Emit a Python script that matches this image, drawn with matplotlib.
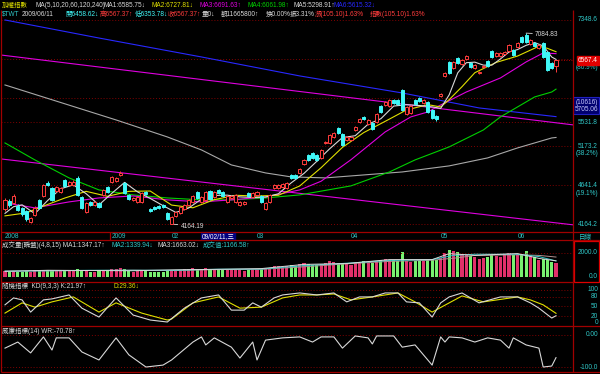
import matplotlib
matplotlib.use('Agg')
import matplotlib.pyplot as plt
from matplotlib.patches import Rectangle

plt.rcParams['font.family'] = ['Liberation Sans', 'Noto Sans CJK TC', 'DejaVu Sans']
plt.rcParams['font.size'] = 4.7

# ---- daily bars (TAIEX, late Nov 2008 .. 2009/06/11) ----
opens = [4344, 4441, 4417, 4380, 4356, 4319, 4190, 4272, 4454, 4503,
         4670, 4605, 4567, 4554, 4709, 4644, 4644, 4735, 4491, 4307,
         4429, 4392, 4417, 4516, 4618, 4683, 4696, 4775, 4670, 4516,
         4454, 4429, 4429, 4554, 4344, 4368, 4380, 4392, 4296, 4170,
         4260, 4296, 4344, 4392, 4429, 4554, 4429, 4454, 4567, 4491,
         4579, 4554, 4429, 4478, 4429, 4392, 4404, 4541, 4491, 4516,
         4503, 4344, 4429, 4605, 4605, 4618, 4605, 4775, 4775, 4801,
         4923, 5048, 5076, 5048, 5006, 5219, 5219, 5307, 5441, 5351,
         5263, 5263, 5411, 5533, 5611, 5503, 5518, 5533, 5785, 5801,
         5785, 5882, 5882, 6048, 5658, 5674, 5882, 5915, 5834, 5850,
         5721, 5627, 5948, 6289, 6539, 6430, 6612, 6502, 6593, 6520,
         6430, 6341, 6448, 6557, 6741, 6648, 6648, 6685, 6741, 6760,
         6817, 7009, 7048, 6874, 6893, 6798, 6893, 6723, 6520, 6458.62]
highs = [4478, 4466, 4529, 4404, 4368, 4331, 4248, 4380, 4466, 4657,
         4696, 4618, 4631, 4618, 4722, 4696, 4709, 4761, 4503, 4429,
         4441, 4441, 4429, 4592, 4631, 4761, 4748, 4828, 4683, 4529,
         4491, 4503, 4554, 4567, 4356, 4380, 4392, 4404, 4307, 4260,
         4319, 4380, 4404, 4466, 4516, 4567, 4503, 4567, 4579, 4567,
         4592, 4567, 4516, 4516, 4529, 4441, 4441, 4554, 4554, 4567,
         4516, 4429, 4529, 4657, 4657, 4670, 4683, 4788, 4788, 4868,
         4992, 5062, 5090, 5062, 5133, 5248, 5351, 5381, 5457, 5366,
         5322, 5322, 5472, 5595, 5627, 5580, 5533, 5674, 5801, 5866,
         5898, 5899, 5899, 6065, 5785, 5801, 5899, 5932, 5899, 5866,
         5737, 5642, 5998, 6359, 6557, 6557, 6630, 6593, 6667, 6539,
         6502, 6377, 6484, 6575, 6760, 6723, 6723, 6741, 6874, 6779,
         6912, 7028, 7084.83, 6970, 6912, 6874, 6912, 6741, 6539, 6567.37]
lows = [4319, 4368, 4404, 4319, 4260, 4201, 4180, 4260, 4344, 4491,
        4631, 4441, 4554, 4541, 4618, 4631, 4631, 4503, 4344, 4296,
        4380, 4380, 4356, 4503, 4541, 4670, 4683, 4761, 4529, 4454,
        4441, 4417, 4417, 4516, 4307, 4331, 4344, 4356, 4213, 4164.19,
        4248, 4284, 4331, 4380, 4417, 4466, 4417, 4441, 4454, 4478,
        4529, 4491, 4417, 4466, 4417, 4380, 4392, 4491, 4478, 4503,
        4417, 4331, 4417, 4592, 4592, 4605, 4592, 4722, 4722, 4788,
        4909, 4964, 4992, 4964, 4992, 5205, 5205, 5292, 5351, 5176,
        5248, 5248, 5396, 5518, 5564, 5487, 5411, 5518, 5674, 5785,
        5769, 5817, 5801, 5705, 5642, 5658, 5801, 5850, 5817, 5674,
        5580, 5549, 5932, 6270, 6324, 6412, 6502, 6484, 6575, 6430,
        6412, 6324, 6430, 6448, 6612, 6630, 6630, 6667, 6723, 6648,
        6798, 6893, 6893, 6855, 6817, 6779, 6612, 6377, 6412, 6353.78]
closes = [4454, 4392, 4503, 4331, 4284, 4225, 4236, 4356, 4356, 4644,
          4644, 4454, 4618, 4605, 4631, 4683, 4683, 4516, 4356, 4417,
          4392, 4429, 4368, 4579, 4554, 4748, 4735, 4801, 4541, 4466,
          4478, 4491, 4541, 4529, 4319, 4344, 4356, 4368, 4225, 4248,
          4307, 4368, 4392, 4454, 4503, 4478, 4491, 4554, 4466, 4554,
          4541, 4503, 4503, 4503, 4516, 4429, 4429, 4503, 4541, 4554,
          4429, 4417, 4516, 4644, 4644, 4657, 4670, 4735, 4735, 4855,
          4978, 4978, 5006, 4978, 5118, 5234, 5336, 5366, 5366, 5190,
          5307, 5307, 5457, 5580, 5580, 5564, 5426, 5658, 5689, 5850,
          5882, 5834, 5817, 5721, 5769, 5785, 5817, 5866, 5882, 5689,
          5595, 5580, 5981, 6341, 6341, 6539, 6520, 6575, 6648, 6448,
          6484, 6359, 6466, 6466, 6630, 6704, 6704, 6723, 6855, 6667,
          6893, 6912, 6912, 6951, 6836, 6855, 6630, 6394, 6430, 6567.37]
volumes = [480, 420, 520, 400, 450, 500, 430, 550, 480, 620,
           560, 600, 480, 500, 520, 470, 540, 650, 580, 520,
           450, 420, 480, 610, 560, 700, 640, 720, 680, 520,
           450, 480, 560, 520, 450, 420, 380, 400, 520, 600,
           580, 620, 650, 700, 760, 650, 620, 720, 680, 700,
           650, 620, 600, 580, 650, 560, 520, 600, 640, 700,
           680, 720, 760, 900, 880, 850, 920, 1000, 950, 1100,
           1160, 1050, 1000, 980, 1100, 1200, 1300, 1250, 1150, 1200,
           1050, 1000, 1150, 1250, 1300, 1200, 1150, 1350, 1400, 1500,
           1450, 1400, 1350, 2080, 1300, 1250, 1350, 1400, 1300, 1450,
           1500, 1400, 1600, 2000, 2250, 2200, 2100, 1900, 1800, 1750,
           1650, 1500, 1600, 1700, 1800, 1750, 1700, 1900, 2000, 1850,
           1900, 1950, 2170, 1800, 1700, 1400, 1500, 1450, 1270, 1166.58]

# ---- moving averages (bar index, value) ----
ma5_idx = [0, 2, 4, 7, 10, 13, 16, 19, 22, 25, 28, 31, 34, 37, 40, 43, 46, 49, 52, 55,
           58, 61, 64, 67, 70, 73, 76, 79, 82, 85, 88, 91, 94, 97, 100, 102, 104, 106,
           108, 110, 112, 114, 116, 118, 120, 122, 124, 126, 127, 128, 129]
ma5_val = [4290, 4370, 4393, 4286, 4447, 4593, 4644, 4531, 4392, 4536, 4676, 4555, 4472,
           4383, 4301, 4354, 4464, 4509, 4513, 4491, 4484, 4489, 4530, 4670, 4795, 4959,
           5134, 5298, 5325, 5498, 5583, 5783, 5805, 5792, 5770, 5745, 5968, 6344, 6525,
           6535, 6481, 6481, 6594, 6723, 6768, 6848, 6901, 6837, 6733, 6629, 6585.75]
ma10_idx = [0, 5, 9, 14, 19, 24, 29, 34, 39, 44, 49, 54, 59, 64, 69, 74, 79, 84, 89, 94,
            99, 102, 104, 107, 110, 115, 120, 125, 127, 129]
ma10_val = [4260, 4296, 4378, 4477, 4561, 4498, 4561, 4565, 4390, 4357, 4457, 4511, 4502,
            4511, 4630, 4871, 5155, 5372, 5542, 5721, 5806, 5769, 5888, 6104, 6346, 6530,
            6647, 6831, 6791, 6727.81]
ma20_idx = [0, 7, 15, 22, 30, 38, 46, 53, 61, 69, 74, 81, 89, 95, 99, 102, 108, 116, 122, 126, 129]
ma20_val = [4417, 4356, 4429, 4478, 4503, 4454, 4429, 4454, 4491, 4579, 4691, 4981, 5381,
            5611, 5689, 5801, 6014, 6254, 6539, 6704, 6691.63]
ma60_idx = [0, 7, 15, 22, 30, 38, 46, 53, 61, 69, 81, 90, 96, 104, 112, 116, 120, 124, 128, 129]
ma60_val = [5219, 4978, 4735, 4579, 4516, 4478, 4454, 4454, 4478, 4516, 4631, 4814, 4978,
            5162, 5411, 5611, 5769, 5932, 6014, 6061.98]
ma120_idx = [0, 26, 38, 46, 53, 61, 67, 75, 81, 93, 104, 113, 120, 128, 129]
ma120_val = [6133, 5564, 5307, 5118, 4909, 4801, 4748, 4735, 4761, 4814, 4896, 5006, 5147,
             5292, 5298.91]
ma240_idx = [0, 22, 46, 69, 93, 111, 129]
ma240_val = [7349, 6989, 6630, 6289, 5998, 5753, 5615.32]

# two hand-drawn trend lines (anchor bars, prices)
trend_a = [(0, 6657), (129, 5520)]
trend_b = [(0, 4985), (129, 4178)]
# fibonacci style levels of the price scale
levels = [7348.6, 6592, 5915, 5531.8, 5173.2, 4641.4, 4164.2]

# volume averages (4, 8, 15)
vma1_idx = [0, 10, 20, 30, 40, 50, 60, 70, 80, 90, 100, 104, 110, 120, 125, 129]
vma1_val = [470, 560, 540, 520, 600, 640, 700, 1050, 1120, 1450, 1450, 1950, 1800, 1950, 1550, 1347]
vma2_idx = [0, 10, 20, 30, 40, 50, 60, 70, 80, 90, 100, 105, 110, 120, 125, 129]
vma2_val = [480, 520, 560, 560, 560, 650, 660, 950, 1150, 1380, 1450, 1800, 1900, 1900, 1700, 1340]
vma3_idx = [0, 10, 20, 30, 40, 50, 60, 70, 80, 90, 100, 106, 110, 120, 125, 129]
vma3_val = [500, 510, 540, 570, 540, 620, 640, 850, 1100, 1300, 1400, 1600, 1800, 1850, 1800, 1663]

# KD(9,3,3)
k_idx = [0, 2, 4, 6, 9, 11, 15, 18, 22, 26, 30, 34, 38, 42, 46, 50, 53, 56, 58, 60, 63, 65,
         69, 73, 77, 80, 83, 86, 89, 92, 94, 97, 100, 102, 104, 107, 111, 116, 120, 123, 125,
         128, 129]
k_val = [55, 76, 70, 33, 70, 73, 85, 45, 18, 76, 24, 9, 3, 45, 76, 85, 39, 39, 61, 48, 76, 85,
         91, 85, 91, 64, 79, 79, 91, 91, 64, 61, 18, 61, 79, 91, 61, 79, 79, 61, 45, 15, 21.97]
d_idx = [0, 4, 7, 11, 16, 22, 26, 32, 38, 39, 44, 50, 55, 60, 65, 69, 73, 77, 81, 86, 92, 96,
         100, 104, 107, 112, 120, 123, 126, 129]
d_val = [30, 61, 48, 64, 79, 33, 61, 30, 9, 12, 61, 79, 45, 48, 76, 85, 85, 88, 70, 79, 91, 64,
         33, 61, 82, 64, 79, 70, 55, 29.36]
# Williams %R(14)
wr_idx = [0, 3, 6, 9, 11, 12, 15, 18, 22, 26, 29, 33, 37, 39, 44, 46, 47, 49, 53, 55, 58, 59,
          61, 65, 69, 72, 74, 77, 79, 82, 85, 86, 87, 91, 93, 96, 100, 102, 103, 104, 107, 110,
          113, 116, 118, 119, 122, 125, 126, 128, 129]
wr_val = [-41, -22, -56, -6, -47, -9, -9, -53, -78, -9, -62, -100, -94, -78, -22, -6, -31, -9,
          -38, -72, -22, -78, -16, -9, -6, -22, -6, -6, -41, -3, -9, -28, -3, -3, -38, -31, -94,
          -6, -22, -6, -9, -22, -9, -16, -41, -9, -31, -41, -100, -97, -70.78]

month_labels = ['2008', '2009', '02', '03', '04', '05', '06']
month_idx = [0, 25, 39, 59, 81, 102, 120]

# ---- colours ----
BG = 'black'
FRAME = '#a00000'
GRID = '#800000'
TEAL = '#30c8c8'
WHITE = '#d8d8d8'
YELLOW = '#e0e000'
MAG = '#e000e0'
GREEN = '#00d000'
GRAY = '#a8a8a8'
BLUE = '#2828ff'
UP = '#ff3c3c'
DOWN = '#40f8f8'
VUP = '#e0306a'
VDOWN = '#78f070'
DOT = (0, (1, 2))

W, H = 600, 374
X0, X1 = 1, 573
STEP = 551 / 129
XLIM = ((X0 - 5) / STEP, (X1 - 5) / STEP)
RX = (598 - X0) / (X1 - X0)   # right label column, axes fraction
PX = 0.72                     # one pixel in points

fig = plt.figure(figsize=(6, 3.74), dpi=100, facecolor=BG)


def panel(top, bottom, ylim, log=False):
    ax = fig.add_axes([X0 / W, 1 - bottom / H, (X1 - X0) / W, (bottom - top) / H])
    ax.set_facecolor(BG)
    if log:
        ax.set_yscale('log')
    ax.set_xlim(*XLIM)
    ax.set_ylim(*ylim)
    ax.tick_params(which='both', left=False, bottom=False, labelleft=False, labelbottom=False)
    for s in ax.spines.values():
        s.set_visible(False)
    return ax


def rlabel(ax, y, s, dy=0, color=TEAL, **kw):
    ax.annotate(s, xy=(RX, y), xycoords=ax.get_yaxis_transform(), xytext=(0, dy * PX),
                textcoords='offset points', ha='right', va='center', color=color,
                annotation_clip=False, **kw)


idx = list(range(len(closes)))
up = [c >= o for o, c in zip(opens, closes)]

# ---- price panel ----
ax = panel(19, 232, (4073, 7369), log=True)
for lv in levels:
    ax.axhline(lv, color=GRID, lw=0.7, ls=DOT, zorder=1)
for (p1, p2) in (trend_a, trend_b):
    ax.axline(p1, p2, color=MAG, lw=0.8, zorder=2)
ax.plot(ma240_idx, ma240_val, color=BLUE, lw=0.8, zorder=2)
ax.plot(ma120_idx, ma120_val, color=GRAY, lw=0.8, zorder=2)
ax.plot(ma60_idx, ma60_val, color=GREEN, lw=0.8, zorder=2)
ax.plot(ma20_idx, ma20_val, color=MAG, lw=0.8, zorder=2)
ax.plot(ma10_idx, ma10_val, color=YELLOW, lw=0.8, zorder=2)
ax.plot(ma5_idx, ma5_val, color=WHITE, lw=0.8, zorder=2)

ax.vlines(idx, lows, highs, colors=[UP if u else DOWN for u in up], lw=0.7, zorder=3)
ax.bar(idx, [abs(c - o) for o, c in zip(opens, closes)],
       bottom=[min(o, c) for o, c in zip(opens, closes)], width=0.72,
       facecolor=[BG if u else DOWN for u in up], edgecolor=[UP if u else DOWN for u in up],
       lw=0.7, zorder=4)

hi_i = highs.index(max(highs))
lo_i = lows.index(min(lows))
ax.annotate('%.2f' % highs[hi_i], xy=(hi_i, highs[hi_i]), xytext=(9 * PX, -1 * PX),
            textcoords='offset points', color=WHITE, va='center', ha='left',
            arrowprops=dict(arrowstyle='-', color=WHITE, lw=0.6, shrinkA=0, shrinkB=0))
ax.annotate('%.2f' % lows[lo_i], xy=(lo_i, lows[lo_i]), xytext=(9 * PX, -2 * PX),
            textcoords='offset points', color=WHITE, va='center', ha='left',
            arrowprops=dict(arrowstyle='-', color=WHITE, lw=0.6, shrinkA=0, shrinkB=0))

for lv in [7348.6, 5531.8, 5173.2, 4641.4, 4164.2]:
    rlabel(ax, lv, '%.1f' % lv)
rlabel(ax, levels[1], '(80.9%)', dy=-8)
rlabel(ax, 5173.2, '(38.2%)', dy=-7)
rlabel(ax, 4641.4, '(19.1%)', dy=-8)
rlabel(ax, closes[-1], '%.1f' % closes[-1], color='white',
       bbox=dict(boxstyle='square,pad=0.15', fc='#e00000', ec='#e00000'))
rlabel(ax, 5705.06, '(10616)\n5705.06', dy=5, color='#c8c8ff', linespacing=1.1,
       bbox=dict(boxstyle='square,pad=0.2', fc='#000070', ec='#2020c0', lw=0.8))
ax.plot([len(closes) - 1, XLIM[1]], [closes[-1], closes[-1]], color='#e00000', lw=0.6, ls=DOT)

# date strip under the price panel
strip = ax.get_xaxis_transform()
for lab, i in zip(month_labels, month_idx):
    ax.text(i, -0.019, lab, transform=strip, color=TEAL, ha='left', va='center')
ax.text(46, -0.019, '09/02/11,三', transform=strip, color='white', ha='left', va='center',
        bbox=dict(boxstyle='square,pad=0.15', fc='#000080', ec='#000080'))

# ---- volume panel ----
av = panel(240, 282, (-417, 3083))
av.axhline(2000, color=GRID, lw=0.7, ls=DOT)
av.bar(idx, volumes, width=0.72, color=[VUP if u else VDOWN for u in up], lw=0)
av.plot(vma3_idx, vma3_val, color='#b09090', lw=0.7)
av.plot(vma2_idx, vma2_val, color=TEAL, lw=0.7)
av.plot(vma1_idx, vma1_val, color=WHITE, lw=0.7)
rlabel(av, 2000, '2000.0')
rlabel(av, 0, '0.0')

# ---- KD panel ----
ak = panel(282, 326, (-9.1, 124.2))
for lv in (100, 80, 50, 20):
    ak.axhline(lv, color=GRID, lw=0.7, ls=DOT)
ak.plot(d_idx, d_val, color=YELLOW, lw=0.8)
ak.plot(k_idx, k_val, color=WHITE, lw=0.8)
for lv in (100, 80, 50, 20, 0):
    rlabel(ak, lv, str(lv))

# ---- WR panel ----
aw = panel(326, 372, (-115.6, 28.1))
for lv in (0, -100):
    aw.axhline(lv, color=GRID, lw=0.7, ls=DOT)
aw.plot(wr_idx, wr_val, color=WHITE, lw=0.8)
rlabel(aw, 0, '0.00')
rlabel(aw, -100, '-100.0')

# ---- frame ----
ov = fig.add_axes([0, 0, 1, 1], zorder=10)
ov.set_xlim(0, W)
ov.set_ylim(H, 0)
ov.axis('off')
ov.patch.set_alpha(0)
ov.vlines([X0, X1], 10, 372, color=FRAME, lw=0.9)
ov.hlines([232, 240, 326, 371.5], X0, W, color=FRAME, lw=0.9)
ov.hlines(282, X0, X1, color=FRAME, lw=0.9)
ov.add_patch(Rectangle((574, 240.5), 24.5, 41.5, fill=False, ec='#e00000', lw=0.9))
ov.vlines(110, 232, 240, color=FRAME, lw=0.9)
ov.text(579, 237, '日線', color=TEAL, va='center', ha='left')


# ---- header texts ----
def head(x, y, s, color):
    ov.text(x, y, s, color=color, va='center', ha='left')


head(2, 5, '加權指數', YELLOW)
head(35, 5, 'MA(5,10,20,60,120,240)', WHITE)
head(104, 5, 'MA1:6585.75↓', WHITE)
head(152, 5, 'MA2:6727.81↓', YELLOW)
head(199, 5, 'MA3:6691.63↑', MAG)
head(248, 5, 'MA4:6061.98↑', GREEN)
head(293, 5, 'MA5:5298.91↑', WHITE)
head(333, 5, 'MA6:5615.32↓', BLUE)

head(2, 14, '$TWT', TEAL)
head(22, 14, '2009/06/11', WHITE)
head(65, 14, '開6458.62↓', DOWN)
head(100, 14, '高6567.37↑', UP)
head(135, 14, '低6353.78↓', DOWN)
head(168, 14, '收6567.37↑', UP)
head(202, 14, '量0↓', WHITE)
head(221, 14, '額11665800↑', WHITE)
head(266, 14, '換0.00%', WHITE)
head(290, 14, '振3.31%', WHITE)
head(315, 14, '漲(105.10)1.63%', UP)
head(370, 14, '指數(105.10)1.63%', UP)

head(2, 245, '成交量(瞬盤)(4,8,15) MA1:1347.17↑', WHITE)
head(112, 245, 'MA2:1339.94↓', TEAL)
head(157, 245, 'MA3:1663.02↓', WHITE)
head(203, 245, '成交值:1166.58↑', TEAL)

head(2, 286, '隨機指標  KD(9,3,3) K:21.97↑', WHITE)
head(113, 286, 'D:29.36↓', YELLOW)
head(2, 331, '威廉指標(14) WR:-70.78↑', WHITE)

fig.savefig('out.png', dpi=100, facecolor=BG)
